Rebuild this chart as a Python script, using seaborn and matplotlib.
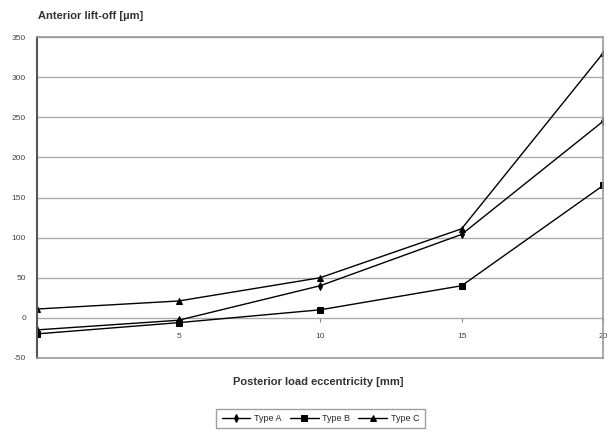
import matplotlib
matplotlib.use("Agg")
import matplotlib.pyplot as plt
import pandas as pd
import seaborn as sns

# Data
eccentricity = [0, 5, 10, 15, 20]
type_a = [-15, -3, 40, 104, 245]
type_b = [-20, -6, 10, 40, 165]
type_c = [11, 21, 50, 111, 330]
series_names = ["Type A", "Type B", "Type C"]
y_ticks = [-50, 0, 50, 100, 150, 200, 250, 300, 350]
x_ticks = [5, 10, 15, 20]

df = pd.DataFrame({
    "ecc": eccentricity * 3,
    "lift": type_a + type_b + type_c,
    "type": [n for n in series_names for _ in eccentricity],
})

sns.set_style("white")
plt.rcParams["font.family"] = ["Liberation Sans", "DejaVu Sans"]

fig = plt.figure(figsize=(6.08, 4.36), dpi=100)
ax = fig.add_axes([0.061, 0.179, 0.931, 0.736])

sns.lineplot(data=df, x="ecc", y="lift", style="type",
             markers={"Type A": "d", "Type B": "s", "Type C": "^"},
             dashes=False, color="black", linewidth=1.0, markersize=4,
             markeredgecolor="black", ax=ax, legend=True)

ax.set_xlim(0, 20)
ax.set_ylim(-50, 350)
ax.set_yticks(y_ticks)
ax.set_yticklabels([str(v) for v in y_ticks], fontsize=6, color="#444444")
ax.tick_params(axis="y", length=0, pad=8)
ax.yaxis.grid(True, color="#aaaaaa", linewidth=1.0)
ax.set_axisbelow(True)

# category ticks sit on the zero line
ax.set_xticks([])
ax.set_xlabel("")
ax.set_ylabel("")
sec = ax.secondary_xaxis(50 / 400)
sec.set_xticks(x_ticks)
sec.set_xticklabels([str(v) for v in x_ticks], fontsize=6, color="#444444")
sec.tick_params(length=3, color="#888888", pad=8)
sec.spines["bottom"].set_visible(False)

for s in ["top", "right", "bottom"]:
    ax.spines[s].set_color("#999999")
    ax.spines[s].set_linewidth(1.2)
ax.spines["left"].set_color("#555555")
ax.spines["left"].set_linewidth(1.5)

fig.text(0.062, 0.963, "Anterior lift-off [µm]", fontsize=8, fontweight="bold",
         color="#333333", va="center", ha="left")
fig.text(0.523, 0.124, "Posterior load eccentricity [mm]", fontsize=8,
         fontweight="bold", color="#333333", va="center", ha="center")

handles, labels = ax.get_legend_handles_labels()
ax.legend(handles, labels, loc="center", bbox_to_anchor=(0.527, 0.04),
          bbox_transform=fig.transFigure, ncol=3, fontsize=6.5, frameon=True,
          fancybox=False, edgecolor="#888888", handlelength=3.2,
          handletextpad=0.4, columnspacing=0.9, borderpad=0.6)

fig.savefig("out.png", dpi=100, facecolor="white")
